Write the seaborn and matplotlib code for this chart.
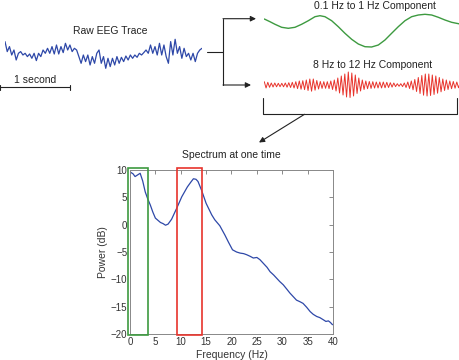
import numpy as np
import pandas as pd
import matplotlib
matplotlib.use("Agg")
import matplotlib.pyplot as plt
import seaborn as sns
from matplotlib.patches import Rectangle

### EEG decomposition figure: raw trace, two band components, power spectrum

# raw EEG trace (arbitrary uV), sampled evenly over 2.81 s
raw_duration = 2.81
raw_uv = [11.7, 1.7, 6.7, -1.7, 3.3, -6.7, 0, 1.7, -1.7, 0, -3.3, -0.7, -5, 0, -7.3,
          0, -3.3, 3.3, 0, 5, 0, 6.7, -0.7, 8.3, -0.7, 6.7, 0.7, 10, 3.3, 8.3,
          1.7, 5, 3.3, -3.3, -10, -1.7, -8.3, -1.7, -11.7, -3.3, -10, 0, 3.3, -10, -3.3,
          -15, -5, -13.3, -5, -11.7, -3.3, -10, -4, -8.3, -2.7, -6.7, -1.7, -5, -1.7, -4,
          0, -1.7, 0.7, 3.3, 0, 8.3, 0, 6.7, -1.7, 10, -1.7, 8.3, -3.3, -10, 11.7,
          -1.7, 14, 0, 6.7, -5, 5, -3.3, 0, -6.7, 0, -8.3, 0, 3.3, 5]

# 0.1-1 Hz component
slow_t = [0.0, 0.081, 0.153, 0.248, 0.343, 0.438, 0.533, 0.629, 0.724, 0.795, 0.867,
          0.962, 1.057, 1.152, 1.248, 1.343, 1.438, 1.533, 1.629, 1.724, 1.819, 1.914,
          2.01, 2.105, 2.2, 2.295, 2.391, 2.486, 2.581, 2.676, 2.795]
slow_uv = [12.0, 9.3, 6.7, 3.7, 2.7, 3.7, 6.7, 10.3, 14.3, 15.3, 14.3, 10.3, 4.3, -2.3,
           -8.3, -13, -15.7, -16, -14, -9, -2.3, 4.3, 10.3, 14.3, 16, 16.7, 16, 13.7,
           11, 8.7, 7]

# 8-12 Hz component, successive peaks and troughs (every 0.025 s)
alpha_step = 0.025
alpha_uv = [3.3, -3.0, 2.7, -2.3, 2.0, -2.0, 2.0, -1.8, 1.7, -1.7, 1.7, -1.8, 2.0, -2.2,
            2.3, -2.5, 2.7, -3.0, 3.3, -3.6, 4.0, -4.2, 4.3, -4.6, 5.0, -5.5, 6.0, -6.2,
            6.0, -5.2, 4.5, -4.0, 3.5, -3.4, 3.3, -3.3, 3.3, -3.6, 4.0, -4.5, 5.0, -6.0,
            7.0, -8.0, 9.0, -10.0, 11.0, -12.0, 13.0, -12.5, 12.0, -11.0, 10.0, -8.5,
            7.0, -6.0, 5.0, -4.5, 4.0, -3.7, 3.5, -3.4, 3.3, -3.1, 3.0, -3.0, 3.0, -3.0,
            3.0, -2.8, 2.7, -2.5, 2.3, -2.1, 2.0, -1.6, 1.3, -1.3, 1.3, -1.6, 2.0, -2.5,
            3.0, -3.5, 4.0, -4.8, 5.5, -6.5, 7.5, -8.5, 9.5, -10.2, 11.0, -11.0, 11.0,
            -10.5, 10.0, -9.5, 9.0, -8.2, 7.5, -6.8, 6.0, -5.5, 5.0, -4.5, 4.0, -3.7,
            3.5, -3.2, 3.0, -2.8, 2.7]

# spectrum at one time
freq_hz = [0.1, 0.6, 1.0, 1.5, 2.0, 2.5, 3.0, 3.5, 4.0, 4.5, 5.0, 5.5, 6.0, 6.5, 7.0,
           7.5, 8.2, 8.7, 9.2, 10.2, 11.3, 12.0, 12.5, 13.0, 13.4, 14.1, 15.0, 16.1,
           16.7, 17.7, 18.7, 19.4, 20.2, 21.0, 21.7, 22.4, 23.0, 23.7, 24.3, 25.0,
           25.6, 26.3, 27.0, 27.6, 28.3, 28.9, 29.5, 30.2, 30.9, 31.5, 32.2, 32.8,
           33.5, 34.1, 34.8, 35.5, 36.1, 36.8, 37.4, 38.1, 38.6, 39.1, 39.5, 39.9]
power_db = [9.6, 9.3, 8.8, 9.1, 9.4, 8.0, 6.0, 4.7, 3.6, 2.3, 1.2, 0.8, 0.4, 0.2, -0.1,
            0.1, 1.0, 2.0, 3.0, 5.1, 6.9, 7.8, 8.4, 8.3, 7.9, 6.3, 3.9, 1.8,
            0.9, -0.2, -1.9, -3.2, -4.6, -5.0, -5.2, -5.3, -5.5, -5.8, -6.1, -6.0,
            -6.4, -7.1, -7.8, -8.6, -9.2, -9.8, -10.4, -11.0, -11.8, -12.5, -13.2, -13.8,
            -14.1, -14.4, -15.1, -15.9, -16.4, -16.8, -17.0, -17.4, -17.7, -17.6, -17.9, -18.3]

slow_band = (0, 3.6)    # Hz, green box
alpha_band = (9.3, 14.2)  # Hz, red box

blue = '#2e48a8'
green = '#3d9a40'
red = '#e8342c'
ink = '#222222'

sns.set_style('white')
plt.rcParams['font.family'] = ['Liberation Sans', 'DejaVu Sans']

W, H = 460, 360
fig = plt.figure(figsize=(W / 100, H / 100), dpi=100)

def px_axes(x0, y0, x1, y1):
    return fig.add_axes([x0 / W, 1 - y1 / H, (x1 - x0) / W, (y1 - y0) / H])

# --- raw trace
ax_raw = px_axes(5, 33.3, 202, 73.3)
raw_df = pd.DataFrame({'t': np.linspace(0, raw_duration, len(raw_uv)), 'uv': raw_uv})
sns.lineplot(data=raw_df, x='t', y='uv', ax=ax_raw, color=blue, lw=0.9, legend=False)
ax_raw.set_xlim(0, raw_duration)
ax_raw.set_ylim(-20, 20)
ax_raw.axis('off')
ax_raw.text(1.5, 22.3, 'Raw EEG Trace', ha='center', va='center', fontsize=7.5, color=ink)
# 1 second scale bar
sb_y = -33.7
ax_raw.plot([-0.071, 0.929], [sb_y, sb_y], color=ink, lw=0.8, clip_on=False)
for xe in (-0.071, 0.929):
    ax_raw.plot([xe, xe], [sb_y - 2.5, sb_y + 2.5], color=ink, lw=0.8, clip_on=False)
ax_raw.text(0.429, -26.7, '1 second', ha='center', va='center', fontsize=7.5, color=ink)

# --- slow component
ax_slow = px_axes(264.3, 11, 460.3, 51)
sns.lineplot(x=slow_t, y=slow_uv, ax=ax_slow, color=green, lw=1.0, legend=False)
ax_slow.set_xlim(0, 2.8)
ax_slow.set_ylim(-20, 20)
ax_slow.axis('off')
ax_slow.text(1.58, 25.3, '0.1 Hz to 1 Hz Component', ha='center', va='center',
             fontsize=7.5, color=ink, clip_on=False)

# --- alpha component
ax_alpha = px_axes(264.3, 65, 460.3, 105)
alpha_t = np.arange(len(alpha_uv)) * alpha_step
sns.lineplot(x=alpha_t, y=alpha_uv, ax=ax_alpha, color=red, lw=0.7, legend=False)
ax_alpha.set_xlim(0, 2.8)
ax_alpha.set_ylim(-20, 20)
ax_alpha.axis('off')
ax_alpha.text(1.553, 20.3, '8 Hz to 12 Hz Component', ha='center', va='center',
              fontsize=7.5, color=ink, clip_on=False)

# --- connectors (overlay in pixel coords)
ov = fig.add_axes([0, 0, 1, 1], zorder=-1)
ov.set_xlim(0, W)
ov.set_ylim(H, 0)
ov.axis('off')
lk = dict(color=ink, lw=0.8)
ov.plot([207, 223], [51.5, 51.5], **lk)
ov.plot([223, 223], [18.7, 85], **lk)
ap = dict(arrowstyle='-|>', color=ink, lw=0.8, mutation_scale=8, shrinkA=0, shrinkB=0)
ov.annotate('', xy=(256, 18.7), xytext=(223, 18.7), arrowprops=ap)
ov.annotate('', xy=(251, 85), xytext=(223, 85), arrowprops=ap)
ov.plot([263, 263, 456.7, 456.7], [98, 114.3, 114.3, 98], **lk)
ov.annotate('', xy=(259, 142.5), xytext=(304.5, 114.3), arrowprops=ap)

# --- spectrum
ax = px_axes(130, 170, 333, 334)
spec = pd.DataFrame({'Frequency (Hz)': freq_hz, 'Power (dB)': power_db})
sns.lineplot(data=spec, x='Frequency (Hz)', y='Power (dB)', ax=ax, color=blue, lw=0.9)
ax.set_xlim(0, 40)
ax.set_ylim(-20, 10)
ax.set_xticks(range(0, 41, 5))
ax.set_yticks(range(-20, 11, 5))
ax.tick_params(direction='in', top=True, right=True, length=3, width=0.6,
               color='#777777', labelcolor='#333333', labelsize=7, pad=2)
for s in ax.spines.values():
    s.set_visible(True)
    s.set_color('#888888')
    s.set_linewidth(0.7)
ax.set_xlabel('Frequency (Hz)', fontsize=7.5, color='#333333', labelpad=2)
ax.set_ylabel('Power (dB)', fontsize=7.5, color='#333333', labelpad=2)
ax.set_title('Spectrum at one time', fontsize=7.5, color=ink, pad=9)

for (lo, hi), c in ((slow_band, green), (alpha_band, red)):
    ax.add_patch(Rectangle((lo - 0.4 if lo == 0 else lo, -20.2), hi - lo + (0.4 if lo == 0 else 0),
                           30.6, fill=False, edgecolor=c, lw=1.2, clip_on=False, zorder=3))

fig.savefig('out.png', dpi=100)
